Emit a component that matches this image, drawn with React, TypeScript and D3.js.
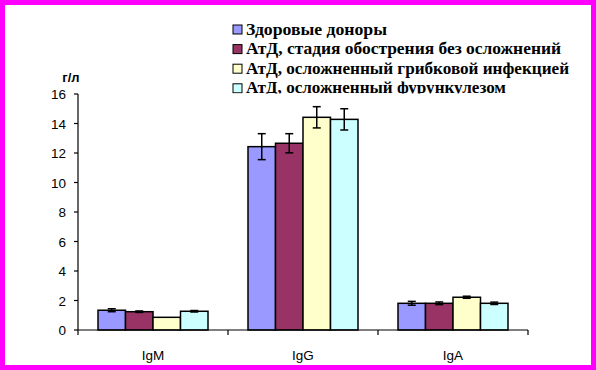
import React from "react";
import * as d3 from "d3";

const categories = ["IgM", "IgG", "IgA"];
const seriesNames = [
  "Здоровые доноры",
  "АтД, стадия обострения без осложнений",
  "АтД, осложненный грибковой инфекцией",
  "АтД, осложненный фурункулезом",
];
const seriesColors = ["#9999FF", "#993366", "#FFFFCC", "#CCFFFF"];
// values per series, in order of categories
const healthy = [1.34, 12.43, 1.81];
const atdAcute = [1.24, 12.66, 1.81];
const atdFungal = [0.86, 14.42, 2.22];
const atdFuruncle = [1.27, 14.28, 1.81];
const healthyErr = [0.1, 0.88, 0.13];
const atdAcuteErr = [0.05, 0.65, 0.09];
const atdFungalErr = [0.0, 0.72, 0.07];
const atdFuruncleErr = [0.05, 0.72, 0.08];
const yTicks = [0, 2, 4, 6, 8, 10, 12, 14, 16];
const legendWidths = [141, 315, 323, 260];

const values = [healthy, atdAcute, atdFungal, atdFuruncle];
const errors = [healthyErr, atdAcuteErr, atdFungalErr, atdFuruncleErr];

export default function App() {
  const W = 596, H = 370;
  const x0 = 78, x1 = 528, yTop = 94, yBot = 330;
  const y = d3.scaleLinear().domain([0, 16]).range([yBot, yTop]);
  const xc = d3.scaleBand().domain(categories).range([x0, x1]).padding(0);
  const xs = d3
    .scaleBand()
    .domain(seriesNames)
    .range([20, xc.bandwidth() - 20])
    .padding(0);
  const bw = xs.bandwidth();
  const sans = "'Liberation Sans', Arial, sans-serif";
  const serif = "'Liberation Serif', 'Times New Roman', serif";

  return (
    <svg
      width={W}
      height={H}
      style={{ position: "absolute", left: 0, top: 0, display: "block" }}
    >
      <defs>
        <clipPath id="legclip">
          <rect x={0} y={0} width={W} height={93.5} />
        </clipPath>
      </defs>
      <rect x={0} y={0} width={W} height={H} fill="#FF00FF" />
      <rect x={5} y={5} width={W - 10} height={H - 10} fill="#FFFFFF" />

      {/* legend */}
      <g clipPath="url(#legclip)">
        {seriesNames.map((s, i) => {
          const cy = 29.5 + i * 19.6;
          return (
            <g key={s}>
              <rect
                x={233}
                y={cy - 4.5}
                width={9}
                height={9}
                fill={seriesColors[i]}
                stroke="#000"
                strokeWidth={1}
              />
              <text
                x={246}
                y={cy + 5}
                fontFamily={serif}
                fontSize={16}
                fontWeight="bold"
                textLength={legendWidths[i]}
                lengthAdjust="spacingAndGlyphs"
                fill="#000"
              >
                {s}
              </text>
            </g>
          );
        })}
      </g>

      {/* y label */}
      <text
        x={71}
        y={82}
        textAnchor="middle"
        fontFamily={sans}
        fontSize={13}
        fontWeight="bold"
      >
        г/л
      </text>

      {/* bars */}
      {categories.map((c, ci) =>
        seriesNames.map((s, si) => {
          const bx = (xc(c) as number) + (xs(s) as number);
          const v = values[si][ci];
          return (
            <rect
              key={c + s}
              x={bx}
              y={y(v)}
              width={bw}
              height={y(0) - y(v)}
              fill={seriesColors[si]}
              stroke="#000"
              strokeWidth={1.5}
            />
          );
        })
      )}

      {/* error bars */}
      {categories.map((c, ci) =>
        seriesNames.map((s, si) => {
          const cx = (xc(c) as number) + (xs(s) as number) + bw / 2;
          const v = values[si][ci];
          const e = errors[si][ci];
          if (e <= 0) return null;
          return (
            <g key={"e" + c + s} stroke="#000" strokeWidth={1.5}>
              <line x1={cx} x2={cx} y1={y(v + e)} y2={y(v - e)} />
              <line x1={cx - 4} x2={cx + 4} y1={y(v + e)} y2={y(v + e)} />
              <line x1={cx - 4} x2={cx + 4} y1={y(v - e)} y2={y(v - e)} />
            </g>
          );
        })
      )}

      {/* y axis */}
      <line x1={x0} x2={x0} y1={yTop} y2={yBot} stroke="#000" strokeWidth={1.2} />
      {yTicks.map((t) => (
        <g key={t}>
          <line x1={x0 - 4} x2={x0} y1={y(t)} y2={y(t)} stroke="#000" strokeWidth={1.2} />
          <text
            x={x0 - 12}
            y={y(t) + 5}
            textAnchor="end"
            fontFamily={sans}
            fontSize={13.5}
            fill="#000"
          >
            {t}
          </text>
        </g>
      ))}

      {/* x axis */}
      <line x1={x0} x2={x1} y1={yBot} y2={yBot} stroke="#000" strokeWidth={1.2} />
      {[...categories.map((c) => xc(c) as number), x1].map((tx, i) => (
        <line key={i} x1={tx} x2={tx} y1={yBot} y2={yBot + 5} stroke="#000" strokeWidth={1.2} />
      ))}
      {categories.map((c) => (
        <text
          key={c}
          x={(xc(c) as number) + xc.bandwidth() / 2}
          y={360}
          textAnchor="middle"
          fontFamily={sans}
          fontSize={13.5}
          fill="#000"
        >
          {c}
        </text>
      ))}
    </svg>
  );
}
